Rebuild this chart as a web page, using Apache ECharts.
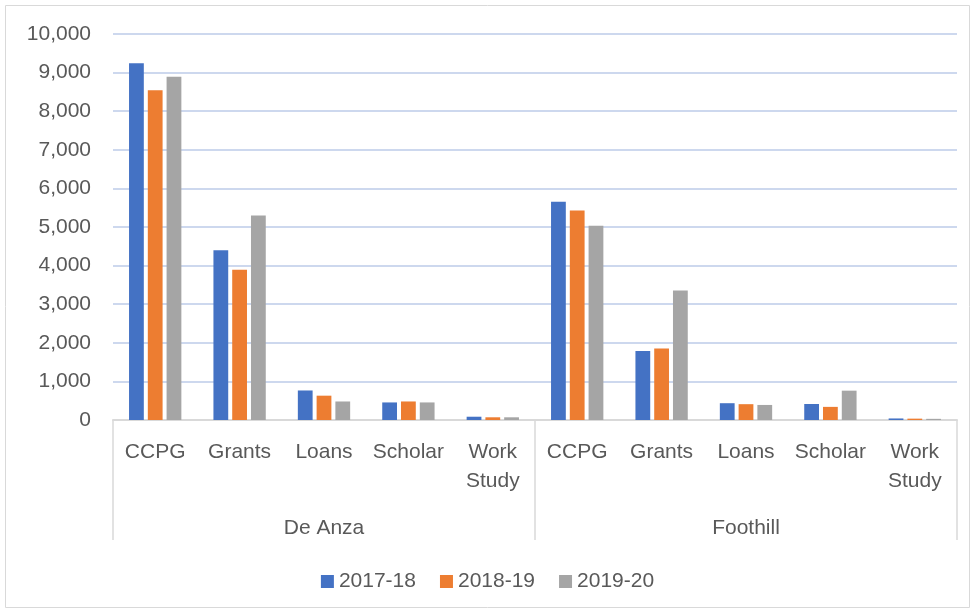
<!DOCTYPE html>
<html>
<head>
<meta charset="utf-8">
<script src="https://cdn.jsdelivr.net/npm/echarts@6/dist/echarts.min.js"></script>
<style>
  html, body { margin: 0; padding: 0; background: #fff; }
  #chart { width: 975px; height: 614px; }
</style>
</head>
<body>
<div id="chart"></div>
<script>
// data
const subCategories = ["CCPG", "Grants", "Loans", "Scholar", "Work\nStudy",
                       "CCPG", "Grants", "Loans", "Scholar", "Work\nStudy"];
const colleges = ["De Anza", "Foothill"];
const years = ["2017-18", "2018-19", "2019-20"];
const y2017 = [9240, 4400, 765, 455, 85, 5655, 1790, 435, 415, 40];
const y2018 = [8545, 3895, 630, 480, 70, 5425, 1850, 410, 340, 35];
const y2019 = [8895, 5295, 480, 455, 70, 5035, 3355, 390, 760, 30];
const colors = ["#4472C4", "#ED7D31", "#A5A5A5"];

const font = "Liberation Sans";
const textColor = "#595959";

const myChart = echarts.init(document.getElementById("chart"));

const seriesData = [y2017, y2018, y2019];

myChart.setOption({
  animation: false,
  color: colors,
  textStyle: { fontFamily: font },
  graphic: [
    {
      type: "rect",
      shape: { x: 5.5, y: 5.5, width: 964, height: 602 },
      style: { fill: "none", stroke: "#d9d9d9", lineWidth: 1 },
    },
  ],
  grid: {
    left: 113,
    right: 18,
    top: 34,
    bottom: 194,
  },
  legend: {
    data: years,
    top: 566,
    left: "center",
    icon: "rect",
    itemWidth: 13,
    itemHeight: 13,
    itemGap: 24,
    textStyle: { color: textColor, fontSize: 21, fontFamily: font },
  },
  xAxis: [
    {
      type: "category",
      data: subCategories,
      position: "bottom",
      axisLine: { lineStyle: { color: "#d9d9d9", width: 2 } },
      axisTick: { show: false },
      axisLabel: {
        color: textColor,
        fontSize: 21,
        fontFamily: font,
        margin: 18,
        lineHeight: 29,
        interval: 0,
      },
      splitLine: { show: false },
    },
    {
      type: "category",
      data: colleges,
      position: "bottom",
      offset: 0,
      axisLine: { show: false },
      axisTick: {
        show: true,
        length: 120,
        lineStyle: { color: "#d9d9d9", width: 1.5 },
      },
      axisLabel: {
        color: textColor,
        fontSize: 21,
        fontFamily: font,
        margin: 94,
        lineHeight: 29,
      },
      splitLine: { show: false },
    },
  ],
  yAxis: {
    type: "value",
    min: 0,
    max: 10000,
    interval: 1000,
    axisLine: { show: false },
    axisTick: { show: false },
    axisLabel: {
      color: textColor,
      fontSize: 21,
      fontFamily: font,
      margin: 22,
      formatter: (v) => v.toLocaleString("en-US"),
    },
    splitLine: { lineStyle: { color: "#cdd8ee", width: 2 } },
  },
  series: years.map((name, i) => ({
    name: name,
    type: "bar",
    xAxisIndex: 0,
    data: seriesData[i],
    barGap: "27%",
    barCategoryGap: "38%",
    itemStyle: { color: colors[i] },
  })),
});
</script>
</body>
</html>
